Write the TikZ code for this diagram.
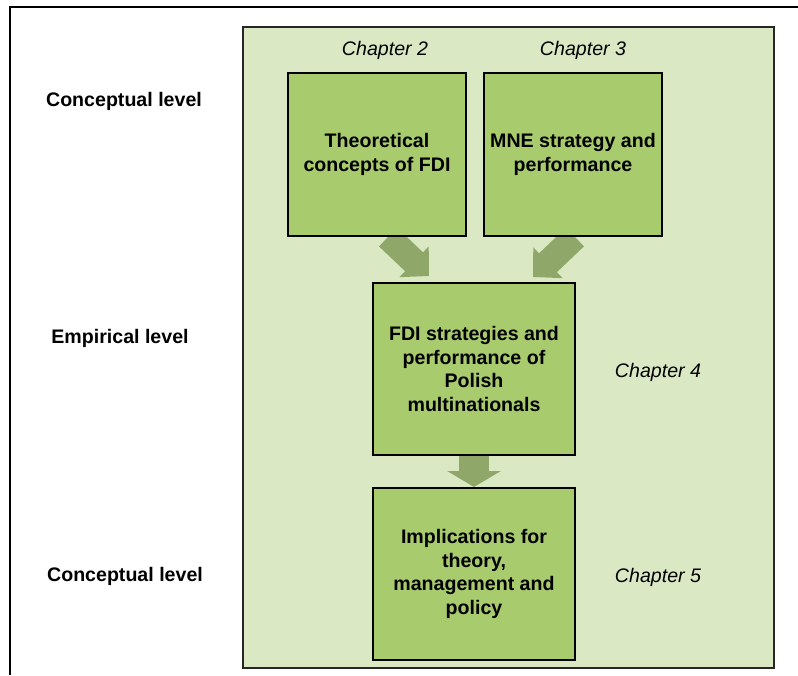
\documentclass[tikz,border=0pt]{standalone}
\usepackage{fontspec}
\setmainfont{Liberation Sans}
\usetikzlibrary{arrows.meta,positioning,calc}
\definecolor{panelgreen}{HTML}{DBE8C4}
\definecolor{boxgreen}{HTML}{A8CB6E}
\definecolor{arrowolive}{HTML}{8FA86A}
\pgfdeclarelayer{background}
\pgfsetlayers{background,main}

\begin{document}
\begin{tikzpicture}[x=0.75pt,y=-0.75pt, every node/.style={font=\fontsize{14.7}{17.6}\selectfont},
  chapbox/.style={draw=black,line width=1.5pt,fill=boxgreen,align=center,inner sep=0pt,font=\fontsize{14.7}{17.6}\selectfont\bfseries},
  level/.style={font=\fontsize{14.7}{17.6}\selectfont\bfseries},
  chap/.style={font=\fontsize{14.7}{17.6}\selectfont\itshape},
  fatarrow/.style={arrowolive,line width=19.5pt,-{Triangle[width=31pt,length=15.5pt]}}]
\useasboundingbox (0,0) rectangle (798,675);
\draw[line width=1.5pt] (10,675) -- (10,7) -- (798,7);
\begin{pgfonlayer}{background}
\draw[fill=panelgreen,draw=black!85,line width=1.2pt] (243,27) rectangle (774,668);
\end{pgfonlayer}
% chapters
\node[chapbox,minimum width=133.5pt,minimum height=122.25pt] (theory) at (377,154.5) {Theoretical\\concepts of FDI};
\node[chapbox,minimum width=133.5pt,minimum height=122.25pt] (mne) at (573,154.5) {MNE strategy and\\performance};
\node[chapbox,minimum width=151.5pt,minimum height=129pt] (fdi) at (474,369) {FDI strategies and\\performance of\\Polish\\multinationals};
\node[chapbox,minimum width=151.5pt,minimum height=129pt] (impl) at (474,574) {Implications for\\theory,\\management and\\policy};
\node[chap] (c2) at (385,50) {Chapter 2};
\node[chap] (c3) at (583,50) {Chapter 3};
\node[chap] (c4) at (658,372) {Chapter 4};
\node[chap] (c5) at (658,577) {Chapter 5};
\node[level] (lv1) at (124,101) {Conceptual level};
\node[level] (lv2) at (120,338) {Empirical level};
\node[level] (lv3) at (125,576) {Conceptual level};
\begin{pgfonlayer}{background}
\draw[fatarrow] ($(theory.south)+(11,0)$) -- ($(fdi.north)+(-45,-6)$);
\draw[fatarrow] ($(mne.south)+(2,0)$) -- ($(fdi.north)+(59,-5)$);
\draw[arrowolive,line width=22.5pt,-{Triangle[width=39.75pt,length=12pt]}] (fdi.south) -- (impl.north);
\end{pgfonlayer}
\end{tikzpicture}
\end{document}
